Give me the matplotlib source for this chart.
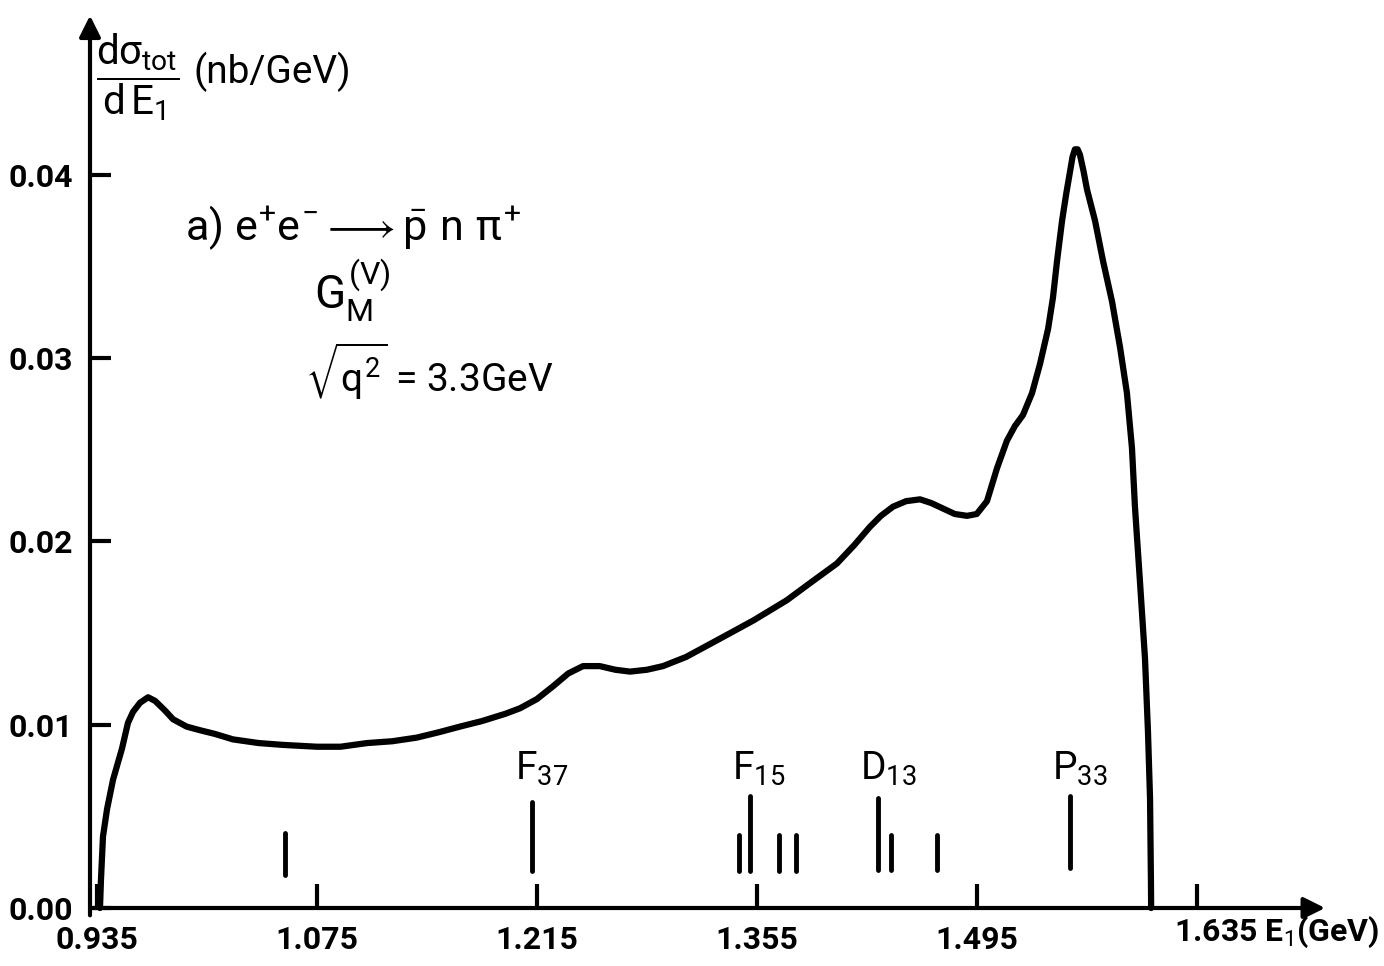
import matplotlib.pyplot as plt

# curve: E1 (GeV) and dsigma/dE1 (nb/GeV)
E1 = [0.9369, 0.9375, 0.9388, 0.9414, 0.9452, 0.9509, 0.9547, 0.9579, 0.9624, 0.9675,
      0.9720, 0.9780, 0.9834, 0.9920, 1.0006, 1.0100, 1.0216, 1.0380, 1.0534, 1.0750,
      1.0900, 1.1069, 1.1230, 1.1387, 1.1530, 1.1661, 1.1800, 1.1950, 1.2043, 1.2150,
      1.2253, 1.2350, 1.2444, 1.2550, 1.2650, 1.2743, 1.2850, 1.2953, 1.3100, 1.3316,
      1.3530, 1.3742, 1.3900, 1.4060, 1.4170, 1.4270, 1.4340, 1.4417, 1.4500, 1.4589,
      1.4660, 1.4735, 1.4810, 1.4888, 1.4950, 1.5015, 1.5079, 1.5142, 1.5193, 1.5244,
      1.5302, 1.5353, 1.5404, 1.5435, 1.5461, 1.5493, 1.5520, 1.5544, 1.5560, 1.5575,
      1.5592, 1.5607, 1.5630, 1.5652, 1.5703, 1.5754, 1.5811, 1.5862, 1.5906, 1.5938,
      1.5957, 1.5989, 1.6021, 1.6040, 1.6053, 1.6059, 1.6060]
dsig = [0.0000, 0.0015, 0.0039, 0.0054, 0.0070, 0.0087, 0.0101, 0.0107, 0.0112, 0.0115,
        0.0113, 0.0108, 0.0103, 0.0099, 0.0097, 0.0095, 0.0092, 0.0090, 0.0089, 0.0088,
        0.0088, 0.0090, 0.0091, 0.0093, 0.0096, 0.0099, 0.0102, 0.0106, 0.0109, 0.0114,
        0.0121, 0.0128, 0.0132, 0.0132, 0.0130, 0.0129, 0.0130, 0.0132, 0.0137, 0.0147,
        0.0157, 0.0168, 0.0178, 0.0188, 0.0198, 0.0208, 0.0214, 0.0219, 0.0222, 0.0223,
        0.0221, 0.0218, 0.0215, 0.0214, 0.0215, 0.0222, 0.0240, 0.0255, 0.0263, 0.0269,
        0.0281, 0.0297, 0.0316, 0.0333, 0.0353, 0.0375, 0.0390, 0.0402, 0.0410, 0.0414,
        0.0414, 0.0411, 0.0402, 0.0392, 0.0375, 0.0353, 0.0331, 0.0306, 0.0281, 0.0251,
        0.0219, 0.0178, 0.0136, 0.0096, 0.0060, 0.0013, 0.0000]

# resonance marks
res_E = [1.0546, 1.2120, 1.3435, 1.3505, 1.3690, 1.3798, 1.4320, 1.4403, 1.4695, 1.5542]
res_top = [0.0041, 0.0058, 0.0040, 0.0061, 0.0040, 0.0040, 0.0060, 0.0040, 0.0040, 0.0061]
res_bottom = [0.0018, 0.0020, 0.0020, 0.0020, 0.0020, 0.0020, 0.0021, 0.0021, 0.0021, 0.0022]
res_names = [r'F$_{37}$', r'F$_{15}$', r'D$_{13}$', r'P$_{33}$']
res_name_E = [1.2120, 1.3505, 1.4320, 1.5542]

xticks = [0.935, 1.075, 1.215, 1.355, 1.495, 1.635]
xticklabels = ['0.935', '1.075', '1.215', '1.355', '1.495', '']
yticks = [0.00, 0.01, 0.02, 0.03, 0.04]
yticklabels = ['0.00', '0.01', '0.02', '0.03', '0.04']

plt.rcParams['font.family'] = ['Roboto', 'DejaVu Sans']
plt.rcParams['mathtext.fontset'] = 'custom'
plt.rcParams['mathtext.rm'] = 'Roboto'
plt.rcParams['mathtext.it'] = 'Roboto'
plt.rcParams['mathtext.bf'] = 'Roboto:bold'
plt.rcParams['mathtext.fallback'] = 'stixsans'

W, H = 1384, 966
fig = plt.figure(figsize=(W / 100, H / 100), dpi=100)
ax = fig.add_axes([90 / W, 58 / H, 1240 / W, 893 / H])
x0, x1 = 0.93054, 1.71986
ax.set_xlim(x0, x1)
ax.set_ylim(0, 0.04873)
for s in ax.spines.values():
    s.set_visible(False)

# axes with arrow heads
arr = dict(arrowstyle='-|>', lw=3, color='k', mutation_scale=32, shrinkA=0, shrinkB=0)
ax.annotate('', xy=(x0, 0.0487), xytext=(x0, -0.0004), arrowprops=arr, annotation_clip=False)
ax.annotate('', xy=(1.7167, 0), xytext=(x0, 0), arrowprops=arr, annotation_clip=False)

ax.set_xticks(xticks)
ax.set_xticklabels(xticklabels)
ax.set_yticks(yticks)
ax.set_yticklabels(yticklabels)
ax.tick_params(axis='x', direction='in', length=17, width=3, pad=12, labelsize=23)
ax.tick_params(axis='y', direction='in', length=15, width=3, pad=12, labelsize=23)
for lab in ax.get_xticklabels() + ax.get_yticklabels():
    lab.set_fontweight('bold')

ax.plot(E1, dsig, color='k', lw=4.5, solid_capstyle='round', solid_joinstyle='round', clip_on=False)

for e, lo, hi in zip(res_E, res_bottom, res_top):
    ax.plot([e, e], [lo, hi], color='k', lw=3.5, solid_capstyle='round')
for e, name in zip(res_name_E, res_names):
    ax.text(e - 0.011, 0.0076, name, fontsize=28, ha='left', va='center')

def px(x, y):
    return x / W, 1 - y / H

fig.text(*px(96, 77), r'$\dfrac{d\sigma_{tot}}{d\,E_1}$', fontsize=29, ha='left', va='center')
fig.text(*px(194, 72), '(nb/GeV)', fontsize=28, ha='left', va='center')
fig.text(*px(1174, 932), r'1.635 E$_1$(GeV)', fontsize=23, ha='left', va='center', fontweight='bold')

fig.text(*px(185, 228), r'a) $e^{+}e^{-} \longrightarrow \bar{p}\ n\ \pi^{+}$', fontsize=31, ha='left', va='center')
fig.text(*px(352, 290), r'$G_M^{(V)}$', fontsize=33, ha='center', va='center')
fig.text(*px(305, 372), r'$\sqrt{q^2}$ = 3.3GeV', fontsize=28, ha='left', va='center')

fig.savefig('out.png', dpi=100)
